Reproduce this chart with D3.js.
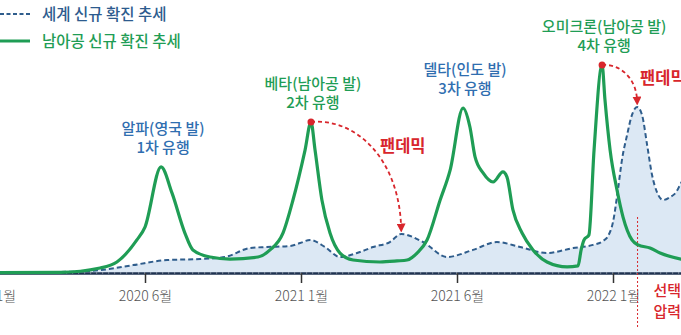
<!DOCTYPE html>
<html><head><meta charset="utf-8">
<script src="https://cdn.jsdelivr.net/npm/d3@7"></script>
<style>
html,body{margin:0;padding:0;background:#fff;overflow:hidden;}
svg{display:block;font-family:"Noto Sans CJK KR","Noto Sans",sans-serif;}
</style></head><body>
<svg id="chart" width="681" height="335"></svg>
<script>
// ---- data (x = months since 2020-01, y = relative case index) ----
const tickMonths = [0, 5, 12, 17, 24];
const tickLabels = ["2020 1월", "2020 6월", "2021 1월", "2021 6월", "2022 1월"];

const saMonths = [0, 2.28, 3.56, 4.10, 4.74, 5.0, 5.72, 6.21, 6.79, 7.15, 7.92, 8.81, 10.07, 10.61, 11.19, 11.64,
  12.13, 12.32, 12.45, 12.67, 12.93, 13.25, 13.67, 14.53, 15.08, 15.40, 15.72, 16.04, 16.46, 16.78,
  17.27, 17.58, 17.81, 18.17, 18.62, 19.06, 19.24, 19.51, 19.92, 20.41, 21.04, 21.94, 22.43, 22.57, 22.70, 22.92,
  23.15, 23.51, 23.64, 23.87, 24.18, 24.45, 24.85, 25.12, 25.66, 26.11, 27.05, 27.45];
const saValues = [0.2, 0.3, 2.4, 5.3, 15.9, 22.1, 51.0, 38.5, 19.2, 11.1, 7.7, 6.7, 7.7, 11.1, 19.2, 35.1,
  59.1, 72.6, 59.1, 35.1, 19.2, 9.6, 6.25, 5.3, 5.8, 6.25, 9.6, 15.9, 35.1, 49.5,
  79.3, 70.2, 55.8, 48.1, 43.75, 48.6, 46.2, 30.3, 19.2, 11.1, 5.3, 2.9, 3.4, 11.1, 15.9, 18.3,
  59.1, 100, 83.2, 59.1, 39.9, 26.9, 15.9, 13.5, 12.0, 9.6, 6.7, 6.0];

const worldMonths = [0, 2.28, 3.56, 4.62, 5.99, 7.47, 8.59, 9.71, 10.47, 11.51, 11.96, 12.29, 12.77, 13.25,
  13.89, 14.31, 14.85, 15.21, 15.91, 16.68, 17.72, 18.79, 19.83, 21.04, 22.21, 23.10, 23.55, 23.78, 24.0,
  24.22, 24.40, 24.63, 24.85, 25.08, 25.30, 25.53, 25.75, 25.97, 26.24, 26.56, 26.83, 27.05, 27.45];
const worldValues = [0.2, 0.5, 1.4, 3.8, 6.25, 6.7, 7.7, 12.0, 12.5, 13.0, 14.4, 15.9, 12.5, 7.7,
  10.1, 12.5, 14.9, 18.75, 14.9, 7.7, 11.1, 14.9, 12.5, 9.6, 12.0, 13.5, 15.4, 17.8, 24.5,
  39.9, 54.3, 66.3, 76.0, 79.8, 76.0, 61.5, 47.1, 38.9, 35.1, 36.5, 38.9, 43.3, 48.6];

const legendLabels = ["세계 신규 확진 추세", "남아공 신규 확진 추세"];
const waveTitles = ["알파(영국 발)", "베타(남아공 발)", "델타(인도 발)", "오미크론(남아공 발)"];
const waveSubtitles = ["1차 유행", "2차 유행", "3차 유행", "4차 유행"];
const wavePeakMonths = [5.72, 12.32, 17.27, 23.51];
const waveFromSA = [false, true, false, true];
const pandemicFrom = [12.32, 23.51];   // SA peak
const pandemicTo = [15.21, 25.08];     // world peak
const pandemicLabel = "팬데믹";
const selectionMonth = 25.1;
const selectionLabel = ["선택", "압력"];

// ---- styles ----
const GREEN = "#1f9d55", BLUE_LINE = "#2f5d8c", BLUE_TEXT = "#2f6eb0", RED = "#d8262c", FILL = "#dce8f4";

const svg = d3.select("#chart");
const x = d3.scaleLinear().domain([0, 5, 12, 17, 24, 27.45]).range([-11, 145, 301, 457, 613, 690]);
const y = d3.scaleLinear().domain([0, 100]).range([273, 65]);

const sa = saMonths.map((m, i) => ({m, v: saValues[i]}));
const world = worldMonths.map((m, i) => ({m, v: worldValues[i]}));
const valAt = (arr, m) => { const d = arr.find(p => Math.abs(p.m - m) < 1e-6); return d ? d.v : 0; };

// area fill under world
svg.append("path").datum(world)
  .attr("d", d3.area().x(d => x(d.m)).y0(y(0)).y1(d => y(d.v)).curve(d3.curveMonotoneX))
  .attr("fill", FILL);

// axis
const axis = d3.axisBottom(x).tickValues(tickMonths).tickFormat((d, i) => tickLabels[i]).tickSize(10).tickPadding(8).tickSizeOuter(0);
const gx = svg.append("g").attr("transform", `translate(0,${y(0)})`).call(axis);
gx.select(".domain").attr("stroke", "#1f3250").attr("stroke-width", 2.5);
gx.selectAll(".tick line").attr("stroke", "#333").attr("stroke-width", 1.5);
gx.selectAll(".tick text").attr("fill", "#555").attr("font-size", 14).attr("font-family", "'Noto Sans CJK KR', sans-serif").attr("font-weight", 300);

// selection pressure line
svg.append("line").attr("x1", x(selectionMonth)).attr("x2", x(selectionMonth)).attr("y1", 217).attr("y2", 328)
  .attr("stroke", RED).attr("stroke-width", 1).attr("stroke-dasharray", "2,2");

// world dashed line
svg.append("path").datum(world)
  .attr("d", d3.line().x(d => x(d.m)).y(d => y(d.v)).curve(d3.curveMonotoneX))
  .attr("fill", "none").attr("stroke", BLUE_LINE).attr("stroke-width", 2).attr("stroke-dasharray", "5,3");

// axis gap pattern overlay (dashed look of baseline)
svg.append("line").attr("x1", 0).attr("x2", 681).attr("y1", y(0)).attr("y2", y(0))
  .attr("stroke", "#ffffff").attr("stroke-opacity", 0.6).attr("stroke-width", 1).attr("stroke-dasharray", "1.2,4.8");

// SA green line
svg.append("path").datum(sa)
  .attr("d", d3.line().x(d => x(d.m)).y(d => y(d.v)).curve(d3.curveMonotoneX))
  .attr("fill", "none").attr("stroke", GREEN).attr("stroke-width", 3.2).attr("stroke-linejoin", "round");

// legend
const lg = svg.append("g");
lg.append("line").attr("x1", 0).attr("x2", 30).attr("y1", 14).attr("y2", 14)
  .attr("stroke", BLUE_LINE).attr("stroke-width", 2).attr("stroke-dasharray", "4,2.5");
lg.append("line").attr("x1", 0).attr("x2", 30).attr("y1", 41).attr("y2", 41)
  .attr("stroke", GREEN).attr("stroke-width", 3);
lg.append("text").attr("x", 42).attr("y", 19.5).text(legendLabels[0]).attr("fill", "#2d5b8e").attr("font-size", 15.5).attr("font-weight", 500);
lg.append("text").attr("x", 42).attr("y", 46.5).text(legendLabels[1]).attr("fill", GREEN).attr("font-size", 15.5).attr("font-weight", 500);

// wave labels
waveTitles.forEach((t, i) => {
  const px = x(wavePeakMonths[i]), py = y(valAt(sa, wavePeakMonths[i]));
  const col = waveFromSA[i] ? GREEN : BLUE_TEXT;
  const g = svg.append("g").attr("text-anchor", "middle").attr("fill", col).attr("font-size", 15).attr("font-weight", 500);
  g.append("text").attr("x", px + 2).attr("y", py - 33).text(t);
  g.append("text").attr("x", px + 2).attr("y", py - 14).text(waveSubtitles[i]);
});

// pandemic arrows
svg.append("defs").append("marker").attr("id", "arr").attr("viewBox", "0 0 10 10")
  .attr("refX", 5).attr("refY", 5).attr("markerWidth", 5).attr("markerHeight", 5).attr("orient", "auto")
  .append("path").attr("d", "M0,0 L10,5 L0,10 Z").attr("fill", RED);

pandemicFrom.forEach((m, i) => {
  const x0 = x(m), y0 = y(valAt(sa, m));
  const x1 = x(pandemicTo[i]), y1 = y(valAt(world, pandemicTo[i])) - 6;
  const dx = x1 - x0, dy = y1 - y0;
  const c1x = x0 + dx * 0.5, c1y = y0 - dy * 0.04;
  const c2x = x1 - dx * 0.02, c2y = y0 + dy * 0.35;
  svg.append("path").attr("d", `M${x0},${y0} C${c1x},${c1y} ${c2x},${c2y} ${x1},${y1}`)
    .attr("fill", "none").attr("stroke", RED).attr("stroke-width", 1.8).attr("stroke-dasharray", "4,3")
    .attr("marker-end", "url(#arr)");
  svg.append("circle").attr("cx", x0).attr("cy", y0).attr("r", 3.5).attr("fill", RED);
  svg.append("text").attr("x", x0 + (i === 0 ? 69 : 38)).attr("y", y0 + (i === 0 ? 30 : 19))
    .text(pandemicLabel).attr("fill", RED).attr("font-size", 16.5).attr("font-weight", 700);
});

// selection pressure text
selectionLabel.forEach((t, i) => {
  svg.append("text").attr("x", x(selectionMonth) + 16).attr("y", 296 + i * 21).text(t)
    .attr("fill", RED).attr("font-size", 15).attr("font-weight", 500);
});
</script>
</body></html>
